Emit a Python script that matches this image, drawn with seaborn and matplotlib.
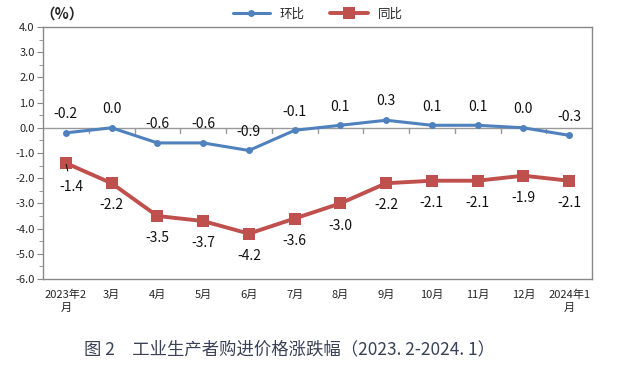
import numpy as np
import pandas as pd
import matplotlib
matplotlib.use('Agg')
import matplotlib.pyplot as plt
import seaborn as sns
from matplotlib.ticker import MultipleLocator

months = ['2023年2\n月', '3月', '4月', '5月', '6月', '7月', '8月', '9月',
          '10月', '11月', '12月', '2024年1\n月']
mom = [-0.2, 0.0, -0.6, -0.6, -0.9, -0.1, 0.1, 0.3, 0.1, 0.1, 0.0, -0.3]
yoy = [-1.4, -2.2, -3.5, -3.7, -4.2, -3.6, -3.0, -2.2, -2.1, -2.1, -1.9, -2.1]

sns.set_style('white')
plt.rcParams['font.family'] = ['Noto Sans CJK SC', 'DejaVu Sans']
plt.rcParams['axes.unicode_minus'] = False

blue = '#4F81BD'
red = '#C0504D'

df = pd.DataFrame({'idx': np.arange(len(months)), '环比': mom, '同比': yoy})

fig = plt.figure(figsize=(6.2, 3.69), dpi=100)
ax = fig.add_axes([43/620, 1-279/369, (592-43)/620, (279-27)/369])

sns.lineplot(data=df, x='idx', y='环比', ax=ax, color=blue, marker='o',
             markersize=5, markeredgewidth=0, linewidth=2.2, label='环比')
sns.lineplot(data=df, x='idx', y='同比', ax=ax, color=red, marker='s',
             markersize=9, markeredgewidth=0, linewidth=2.8, label='同比')

ax.set_xlim(-0.5, len(months)-0.5)
ax.set_ylim(-6, 4)
ax.yaxis.set_major_locator(MultipleLocator(1))
ax.yaxis.set_minor_locator(MultipleLocator(0.5))
ax.set_yticklabels([f'{v:.1f}' for v in ax.get_yticks()])
ax.tick_params(axis='y', which='both', left=True, length=4, color='#888888',
               labelsize=8, pad=2)
ax.tick_params(axis='y', which='minor', length=3)
ax.set_xticks(range(len(months)))
ax.set_xticklabels(months, fontsize=8, linespacing=1.3)
ax.tick_params(axis='x', length=0, pad=8)
ax.set_xlabel('')
ax.set_ylabel('')

for s in ax.spines.values():
    s.set_color('#888888')
    s.set_linewidth(1)

# x axis line at zero with boundary ticks
ax.axhline(0, color='#999999', linewidth=1, zorder=1)
for b in np.arange(0.5, len(months)-0.5, 1):
    ax.plot([b, b], [0, -0.2], color='#999999', linewidth=1, zorder=1)

for i, v in enumerate(mom):
    ax.annotate(f'{v:.1f}', (i, v), xytext=(0, 13.5), textcoords='offset points',
                ha='center', va='center', fontsize=10, color='#111111')
for i, v in enumerate(yoy):
    if i == 0:
        ax.annotate(f'{v:.1f}', (i, v), xytext=(4, -17), textcoords='offset points',
                    ha='center', va='center', fontsize=10, color='#111111',
                    arrowprops=dict(arrowstyle='-', color='#111111', lw=0.8,
                                    shrinkA=4, shrinkB=1))
    else:
        ax.annotate(f'{v:.1f}', (i, v), xytext=(0, -16), textcoords='offset points',
                    ha='center', va='center', fontsize=10, color='#111111')

ax.legend(loc='lower center', bbox_to_anchor=(0.5, 1.0), ncol=2, frameon=False,
          fontsize=9, handlelength=3, columnspacing=2, borderaxespad=0.1)

fig.text(40/620, 1-14/369, '（%）', fontsize=10.5, fontweight='bold', va='center',
         ha='left')
fig.text(290/620, 1-349/369, '图 2　工业生产者购进价格涨跌幅（2023. 2-2024. 1）',
         fontsize=12.5, color='#3A4256', ha='center', va='center')

fig.savefig('out.png', dpi=100)
